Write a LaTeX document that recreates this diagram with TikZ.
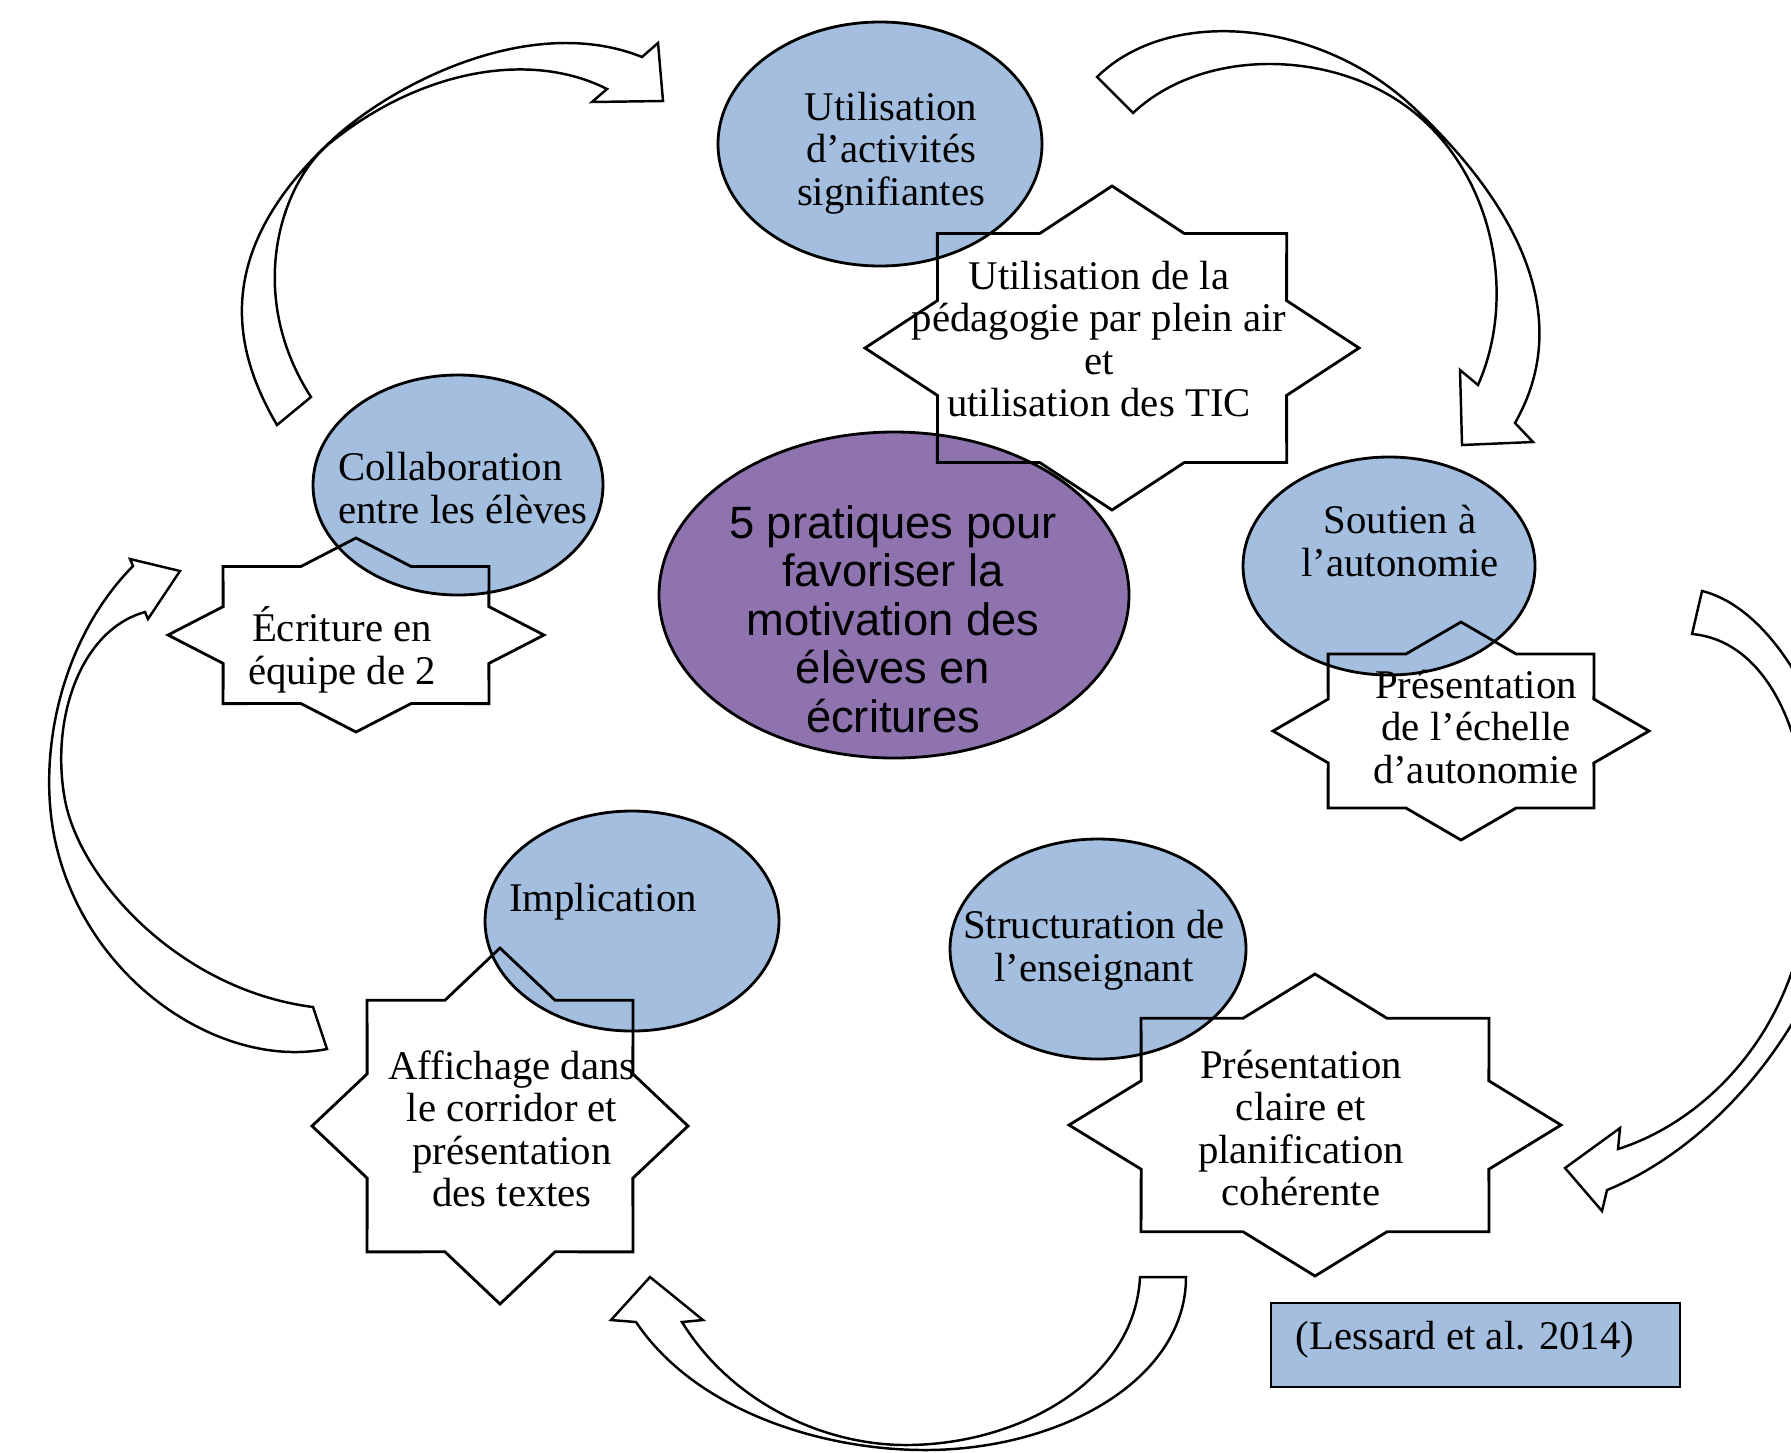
\documentclass[tikz,border=0pt]{standalone}
\usepackage{fontspec}
\setmainfont{Liberation Serif}
\setsansfont{Liberation Sans}
\usetikzlibrary{shapes.geometric}

\definecolor{bleu}{RGB}{164,190,223}
\definecolor{mauve}{RGB}{142,115,175}

% star with 8 points, drawn around a center with two radii
\newcommand{\etoile}[3]{%
  \draw[contour, shift={(#1)}, xscale=#2, yscale=#3] (0:1)
    \foreach \idx [evaluate=\idx as \rad using {1-0.235*mod(\idx,2)}] in {1,...,15}
      { -- (\idx*22.5:\rad) } -- cycle;
}

\begin{document}
\begin{tikzpicture}
  [y=-1cm, line width=0.8pt, every node/.style={align=center,inner sep=0pt}]

  \tikzstyle{pratique} = [draw, ellipse, fill=bleu]
  \tikzstyle{fleche} = [draw, fill=white, line width=0.7pt, line join=miter]
  \tikzstyle{contour} = [draw, line join=miter]
  \tikzstyle{txt} = [font=\fontsize{11.6}{12.1}\selectfont]

  \useasboundingbox (0,0) rectangle (17.91,14.52);
  \clip (0,0) rectangle (17.91,14.52);

  % curved arrows
  \filldraw[fleche] (2.77,4.25) .. controls (2.30,3.45) and (2.15,2.50) .. (3.30,1.42)
    .. controls (3.90,0.85) and (5.30,0.12) .. (6.42,0.57)
    -- (6.58,0.43) -- (6.63,1.01) -- (5.92,1.02) -- (6.07,0.89)
    .. controls (5.30,0.50) and (4.20,0.70) .. (3.30,1.43)
    .. controls (2.80,1.84) and (2.45,2.95) .. (3.11,3.97) -- cycle;
  \filldraw[fleche] (10.97,0.77) .. controls (11.70,0.05) and (13.20,0.20) .. (14.13,1.07)
    .. controls (14.90,1.79) and (15.85,3.00) .. (15.15,4.23)
    -- (15.33,4.42) -- (14.62,4.45) -- (14.60,3.70) -- (14.78,3.85)
    .. controls (15.20,2.90) and (14.90,1.60) .. (13.97,1.00)
    .. controls (13.20,0.50) and (12.00,0.50) .. (11.33,1.13) -- cycle;
  \filldraw[fleche] (17.02,5.91) .. controls (17.80,6.10) and (18.45,7.40) .. (18.45,8.50)
    .. controls (18.45,9.90) and (17.30,11.40) .. (16.07,11.90)
    -- (16.02,12.11) -- (15.65,11.68) -- (16.20,11.28) -- (16.18,11.49)
    .. controls (17.10,11.20) and (18.10,10.20) .. (18.10,8.60)
    .. controls (18.10,7.20) and (17.60,6.40) .. (16.92,6.34) -- cycle;
  \filldraw[fleche] (11.86,12.77) .. controls (11.86,13.80) and (10.60,14.50) .. (9.25,14.50)
    .. controls (8.20,14.50) and (6.95,14.10) .. (6.36,13.22)
    -- (6.11,13.20) -- (6.50,12.77) -- (7.03,13.20) -- (6.82,13.22)
    .. controls (7.30,14.00) and (8.20,14.45) .. (9.06,14.45)
    .. controls (10.20,14.45) and (11.35,13.80) .. (11.40,12.77) -- cycle;
  \filldraw[fleche] (3.27,10.49) .. controls (2.20,10.70) and (0.85,9.80) .. (0.55,8.40)
    .. controls (0.37,7.55) and (0.60,6.40) .. (1.33,5.66)
    -- (1.30,5.59) -- (1.80,5.71) -- (1.48,6.19) -- (1.45,6.12)
    .. controls (0.80,6.30) and (0.50,7.20) .. (0.65,8.00)
    .. controls (0.80,8.80) and (1.80,9.90) .. (3.13,10.07) -- cycle;

  % the five practices
  \node[pratique, minimum width=3.24cm, minimum height=2.44cm] (act) at (8.80,1.44) {};
  \node[pratique, minimum width=2.90cm, minimum height=2.20cm] (collab) at (4.58,4.85) {};
  \node[pratique, minimum width=2.92cm, minimum height=2.18cm] (soutien) at (13.89,5.66) {};
  \node[pratique, minimum width=2.94cm, minimum height=2.20cm] (impl) at (6.32,9.21) {};
  \node[pratique, minimum width=2.96cm, minimum height=2.20cm] (struct) at (10.98,9.49) {};
  \node[pratique, fill=mauve, minimum width=4.70cm, minimum height=3.26cm] (centre) at (8.94,5.95) {};
  \node[draw, fill=bleu, minimum width=4.09cm, minimum height=0.84cm] (source) at (14.755,13.45) {};

  % stars
  \etoile{11.12,3.48}{2.47}{1.62}
  \etoile{3.56,6.35}{1.88}{0.97}
  \etoile{14.61,7.31}{1.88}{1.09}
  \etoile{5.00,11.26}{1.88}{1.78}
  \etoile{13.15,11.25}{2.46}{1.51}

  % texts
  \node[txt] (act-t) at (8.91,1.53) {Utilisation\\d’activités\\signifiantes};
  \node[txt, align=left, anchor=west] (collab-t) at (3.37,4.88) {Collaboration\\entre les élèves};
  \node[txt] (soutien-t) at (14.00,5.41) {Soutien à\\l’autonomie};
  \node[txt] (impl-t) at (6.03,9.02) {Implication};
  \node[txt] (struct-t) at (10.94,9.50) {Structuration de\\l’enseignant};
  \node[font=\sffamily\fontsize{12.9}{13.8}\selectfont] (centre-t) at (8.93,6.19)
    {5 pratiques pour\\favoriser la\\motivation des\\élèves en\\écritures};
  \node[txt] (ped-t) at (10.99,3.39) {Utilisation de la\\pédagogie par plein air\\et\\utilisation des TIC};
  \node[txt] (ecr-t) at (3.42,6.50) {Écriture en\\équipe de 2};
  \node[txt] (ech-t) at (14.76,7.27) {Présentation\\de l’échelle\\d’autonomie};
  \node[txt] (aff-t) at (5.12,11.29) {Affichage dans\\le corridor et\\présentation\\des textes};
  \node[txt] (pres-t) at (13.01,11.28) {Présentation\\claire et\\planification\\cohérente};
  \node[txt] (source-t) at (14.65,13.40) {(Lessard et al. 2014)};
\end{tikzpicture}
\end{document}
